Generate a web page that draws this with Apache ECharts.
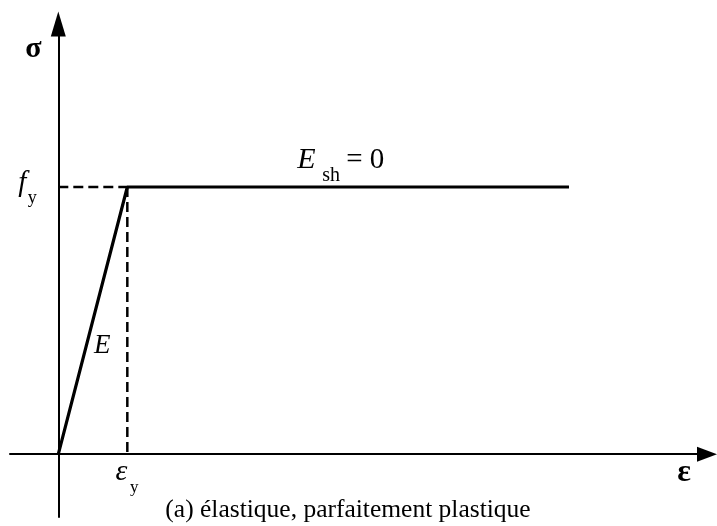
<!DOCTYPE html>
<html>
<head>
<meta charset="utf-8">
<script src="https://cdn.jsdelivr.net/npm/echarts@6/dist/echarts.min.js"></script>
<style>
  html, body { margin: 0; padding: 0; background: #fff; }
  #chart { width: 717px; height: 526px; }
</style>
</head>
<body>
<div id="chart"></div>
<script>
// Elastic - perfectly plastic stress-strain law, in dimensionless units (εy = 1, fy = 1)
const strain = [0, 1, 7.4];       // ε : origin, yield strain, end of plateau
const stress = [0, 1, 1];         // σ : 0, fy, fy (E_sh = 0)
const yieldStrain = 1;
const yieldStress = 1;
const captionText = '(a) élastique, parfaitement plastique';

const SERIF = '"Liberation Serif", "Times New Roman", serif';
const chart = echarts.init(document.getElementById('chart'), null, { renderer: 'canvas' });

const curve = strain.map((e, i) => [e, stress[i]]);
const guideH = [[0, yieldStress], [yieldStrain, yieldStress]];
const guideV = [[yieldStrain, yieldStress], [yieldStrain, 0]];

function axis(min, max, arrowSize) {
  return {
    type: 'value', min: min, max: max,
    axisLine: {
      show: true, onZero: true,
      symbol: ['none', 'triangle'], symbolSize: arrowSize,
      lineStyle: { color: '#000', width: 2 }
    },
    axisTick: { show: false },
    axisLabel: { show: false },
    splitLine: { show: false }
  };
}

const dashed = { color: '#000', width: 2.5, type: [10, 5] };

chart.setOption({
  animation: false,
  grid: { left: 10, right: 10, top: 24, bottom: 9 },
  xAxis: axis(-0.7, 9.4, [15, 20]),
  yAxis: axis(-0.235, 1.61, [15, 25]),
  series: [
    { type: 'line', data: guideH, symbol: 'none', lineStyle: dashed, z: 2 },
    { type: 'line', data: guideV, symbol: 'none', lineStyle: dashed, z: 2 },
    { type: 'line', data: curve, symbol: 'none', lineStyle: { color: '#000', width: 3.2 }, z: 3 }
  ]
});

// Labels placed relative to the plotted points
const px = (p) => chart.convertToPixel({ gridIndex: 0 }, p);
const o = px([0, 0]);
const y = px([yieldStrain, yieldStress]);
const end = px([strain[2], stress[2]]);
const onE = px([0.4 * yieldStrain, 0.4 * yieldStress]);
const midPlateau = (y[0] + end[0]) / 2;

function txt(text, x, yy, size, opts) {
  opts = opts || {};
  return {
    type: 'text', x: x, y: yy, silent: true,
    style: {
      text: text, fill: '#000',
      font: (opts.style || '') + ' ' + (opts.weight || 'normal') + ' ' + size + 'px ' + SERIF,
      align: opts.align || 'center', verticalAlign: 'middle'
    }
  };
}

chart.setOption({
  graphic: [
    txt('σ', o[0] - 25, 49, 30, { weight: 'bold' }),
    txt('f', o[0] - 36, y[1] - 4, 29, { style: 'italic' }),
    txt('y', o[0] - 26, y[1] + 11, 18),
    txt('E', onE[0] + 8, onE[1] - 1, 27, { style: 'italic', align: 'left' }),
    txt('E', midPlateau - 51, y[1] - 27, 30, { style: 'italic', align: 'left' }),
    txt('sh', midPlateau - 26, y[1] - 11, 20, { align: 'left' }),
    txt('= 0', midPlateau - 2, y[1] - 27, 29, { align: 'left' }),
    txt('ε', y[0] - 6, o[1] + 18, 30, { style: 'italic' }),
    txt('y', y[0] + 7, o[1] + 33, 17),
    txt('ε', 684, o[1] + 19, 32, { weight: 'bold' }),
    txt(captionText, 348, 510, 25.5)
  ]
});
</script>
</body>
</html>
